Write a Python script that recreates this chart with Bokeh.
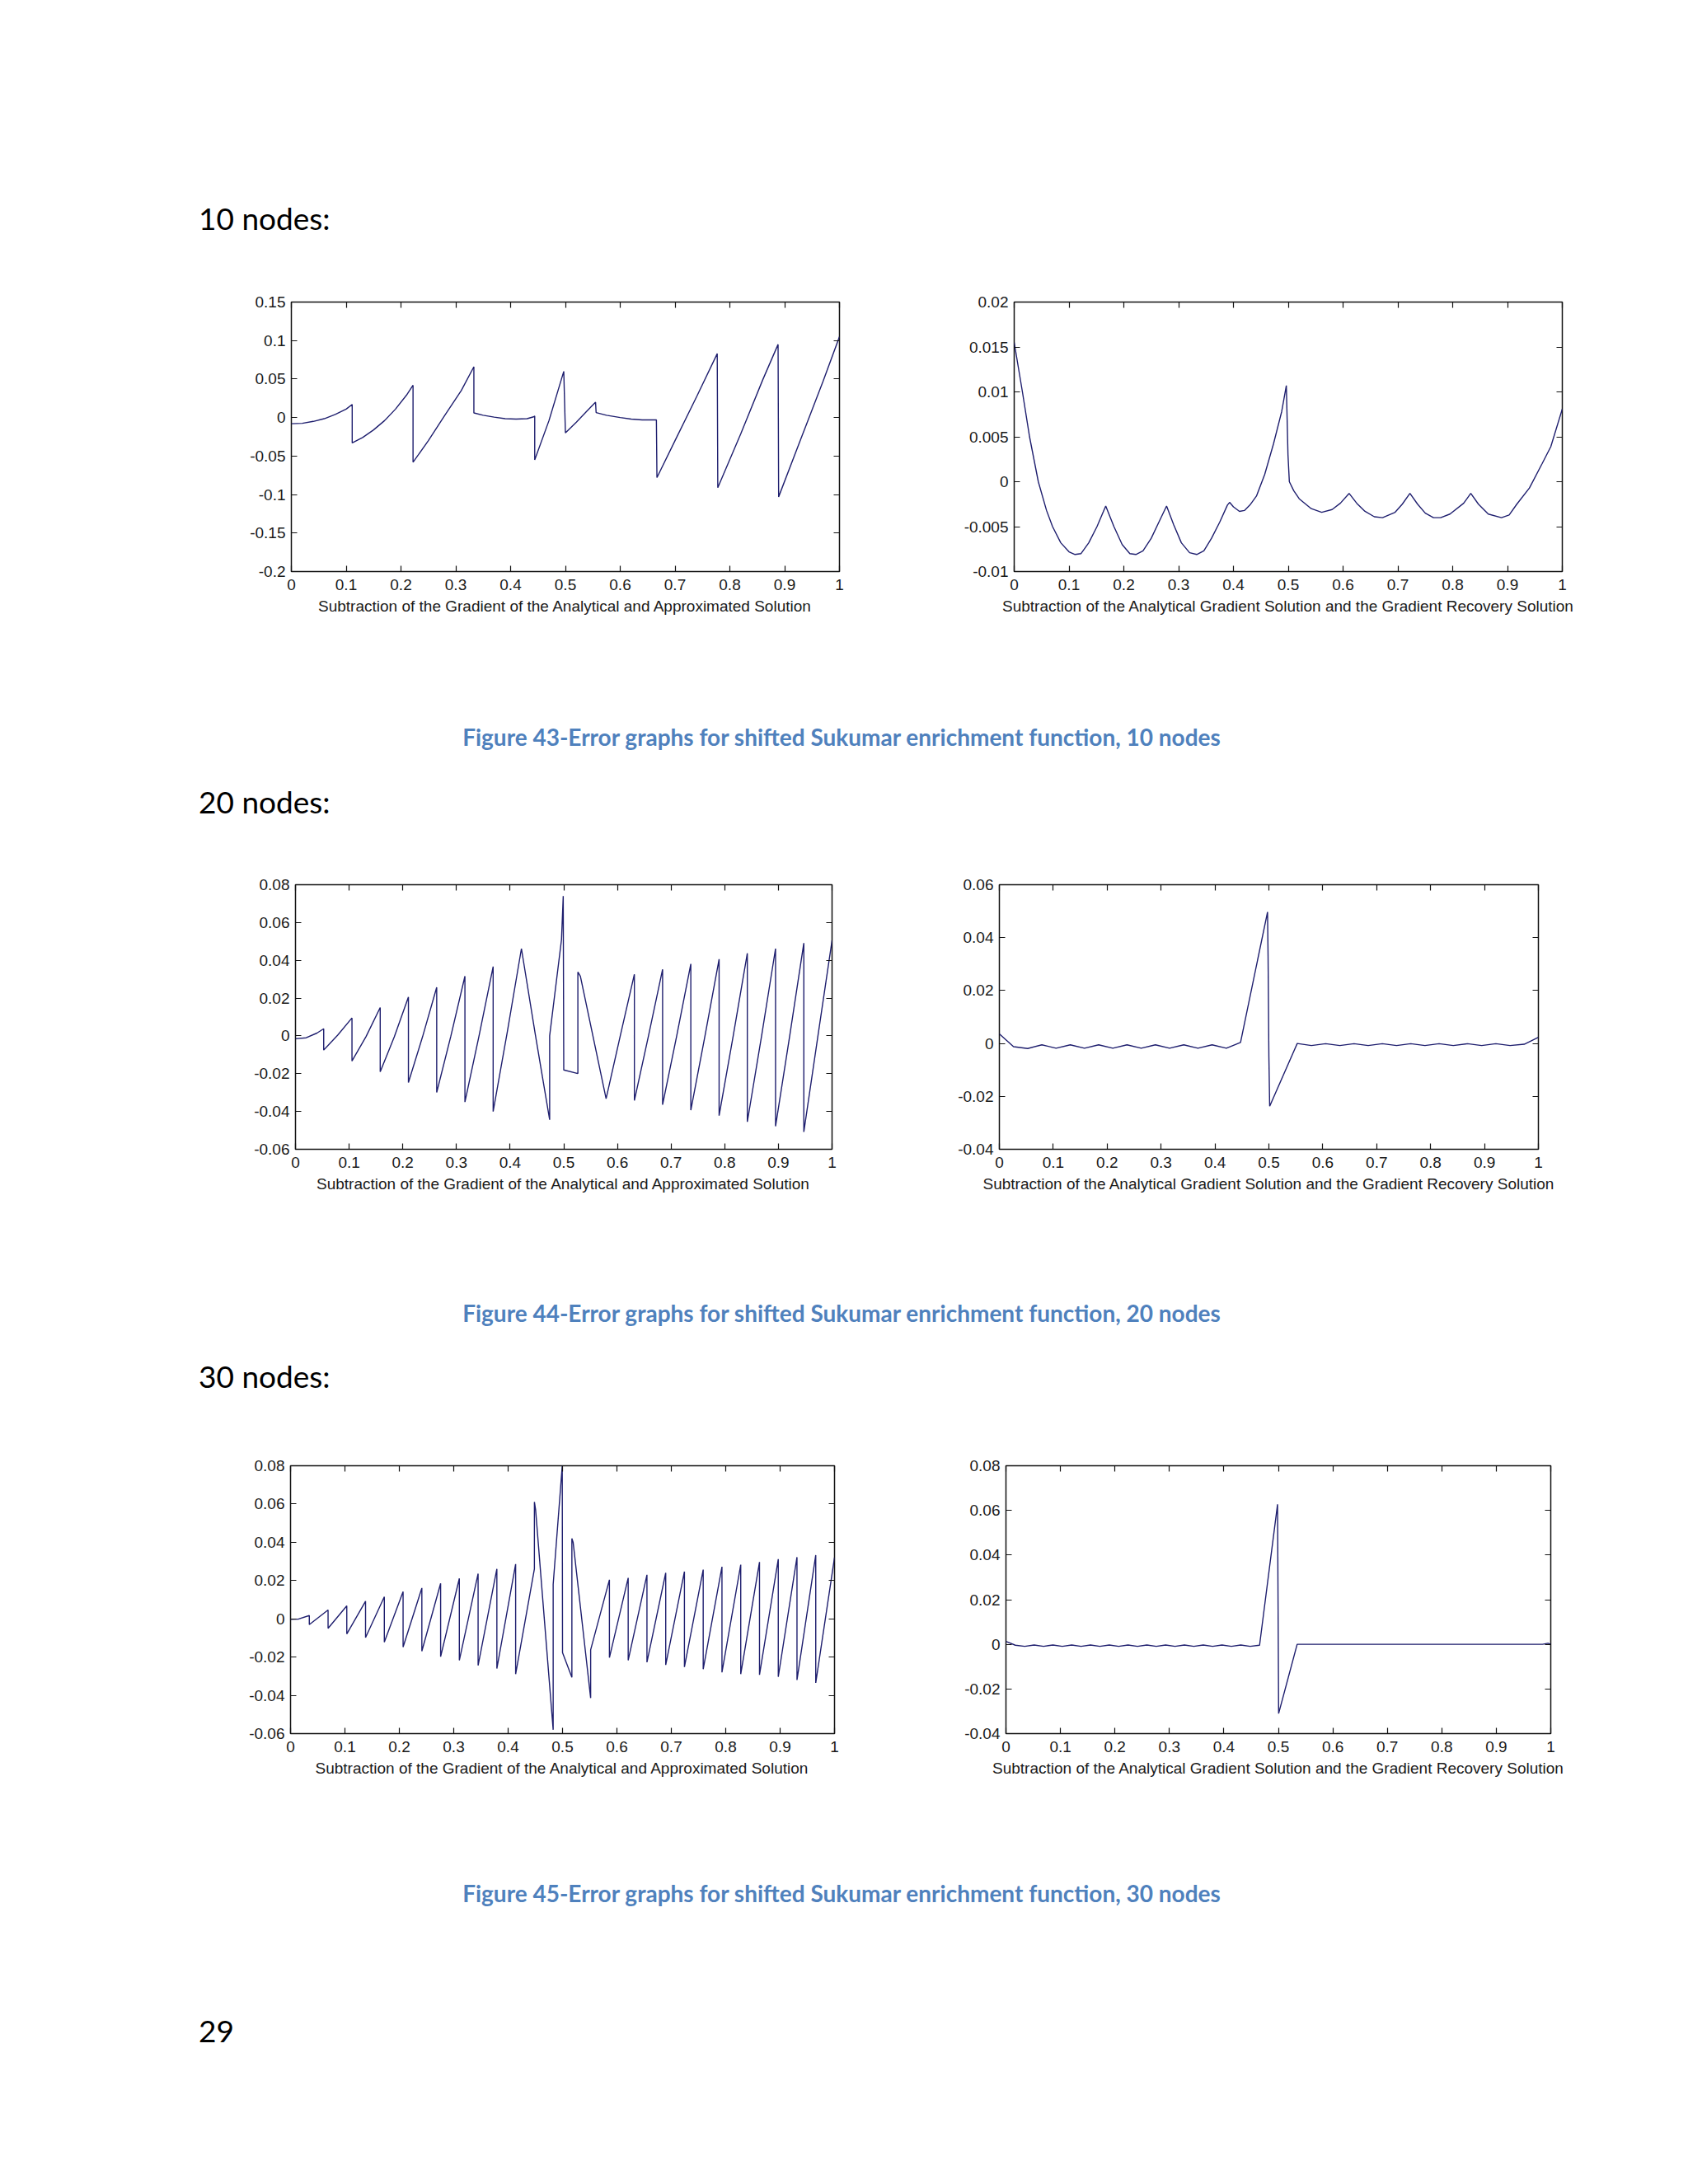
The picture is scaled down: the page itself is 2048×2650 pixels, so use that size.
from bokeh.plotting import figure
from bokeh.models import Range1d, FixedTicker, LinearAxis, Div
from bokeh.layouts import column, row
from bokeh.embed import file_html
from bokeh.resources import INLINE

# ---------------- data ----------------
x_ticks = [0, 0.1, 0.2, 0.3, 0.4, 0.5, 0.6, 0.7, 0.8, 0.9, 1]
x_tick_labels = ["0", "0.1", "0.2", "0.3", "0.4", "0.5", "0.6", "0.7", "0.8", "0.9", "1"]

headings = ["10 nodes:", "20 nodes:", "30 nodes:"]
captions = ["Figure 43-Error graphs for shifted Sukumar enrichment function, 10 nodes",
            "Figure 44-Error graphs for shifted Sukumar enrichment function, 20 nodes",
            "Figure 45-Error graphs for shifted Sukumar enrichment function, 30 nodes"]
page_number = "29"
label_grad = "Subtraction of the Gradient of the Analytical and Approximated Solution"
label_rec = "Subtraction of the Analytical Gradient Solution and the Gradient Recovery Solution"

# 10 nodes - gradient error
n10_grad_x = [
    0.000, 0.020, 0.040, 0.060, 0.080, 0.100, 0.111,
    0.111, 0.130, 0.150, 0.170, 0.190, 0.210, 0.222,
    0.222, 0.250, 0.280, 0.310, 0.333,
    0.333, 0.350, 0.370, 0.390, 0.410, 0.430, 0.442, 0.444,
    0.444, 0.470, 0.497,
    0.500, 0.520, 0.540, 0.555,
    0.556, 0.575, 0.600, 0.620, 0.640, 0.666,
    0.667, 0.700, 0.740, 0.777,
    0.778, 0.820, 0.860, 0.888,
    0.889, 0.930, 0.970, 1.000]
n10_grad_y = [
    -0.0080, -0.0075, -0.0050, -0.0015, 0.0040, 0.0110, 0.0170,
    -0.0330, -0.0260, -0.0160, -0.0040, 0.0110, 0.0290, 0.0420,
    -0.0580, -0.0300, 0.0030, 0.0350, 0.0660,
    0.0060, 0.0030, 0.0005, -0.0015, -0.0020, -0.0015, 0.0010, 0.0020,
    -0.0550, -0.0040, 0.0600,
    -0.0200, -0.0060, 0.0090, 0.0200,
    0.0065, 0.0030, 0.0000, -0.0020, -0.0030, -0.0030,
    -0.0780, -0.0300, 0.0280, 0.0830,
    -0.0910, -0.0210, 0.0490, 0.0950,
    -0.1030, -0.0270, 0.0470, 0.1050]
n10_grad_yticks = [-0.2, -0.15, -0.1, -0.05, 0, 0.05, 0.1, 0.15]
n10_grad_ylabels = ["-0.2", "-0.15", "-0.1", "-0.05", "0", "0.05", "0.1", "0.15"]

# 10 nodes - recovery error
n10_rec_x = [
    0.000, 0.015, 0.028, 0.044, 0.059, 0.070, 0.085, 0.100, 0.111, 0.122, 0.136, 0.151, 0.167,
    0.182, 0.197, 0.211, 0.222, 0.235, 0.250, 0.264, 0.278,
    0.291, 0.305, 0.320, 0.333, 0.346, 0.360, 0.375, 0.389, 0.393,
    0.400, 0.411, 0.420, 0.430, 0.442, 0.457, 0.473, 0.488, 0.4965,
    0.4995, 0.502, 0.510, 0.520, 0.542, 0.561, 0.580, 0.595, 0.611,
    0.625, 0.640, 0.657, 0.672, 0.695, 0.708, 0.722,
    0.736, 0.750, 0.765, 0.778, 0.795, 0.820, 0.833,
    0.847, 0.865, 0.889, 0.903, 0.917, 0.940, 0.963, 0.979, 1.000]
n10_rec_y = [
    0.0155, 0.0100, 0.0050, 0.0000, -0.0032, -0.0050, -0.0068, -0.0078, -0.0081, -0.0080, -0.0068, -0.0050, -0.0027,
    -0.0050, -0.0070, -0.0080, -0.0081, -0.0077, -0.0063, -0.0045, -0.0027,
    -0.0048, -0.0068, -0.0079, -0.0081, -0.0077, -0.0063, -0.0045, -0.0026, -0.0023,
    -0.0028, -0.0033, -0.0032, -0.0026, -0.0016, 0.0008, 0.0042, 0.0078, 0.0107,
    0.0030, 0.0000, -0.0010, -0.0019, -0.0030, -0.0034, -0.0031, -0.0024, -0.0013,
    -0.0024, -0.0033, -0.0039, -0.0040, -0.0034, -0.0025, -0.0013,
    -0.0025, -0.0035, -0.0040, -0.0040, -0.0036, -0.0024, -0.0013,
    -0.0025, -0.0036, -0.0040, -0.0037, -0.0025, -0.0007, 0.0020, 0.0039, 0.0081]
n10_rec_yticks = [-0.01, -0.005, 0, 0.005, 0.01, 0.015, 0.02]
n10_rec_ylabels = ["-0.01", "-0.005", "0", "0.005", "0.01", "0.015", "0.02"]

# 20 nodes - gradient error
n20_grad_x = [
    0.0000, 0.0200, 0.0400, 0.0526,
    0.0526, 0.0790, 0.1053,
    0.1053, 0.1316, 0.1579,
    0.1579, 0.1842, 0.2105,
    0.2105, 0.2368, 0.2632,
    0.2632, 0.2895, 0.3158,
    0.3158, 0.3421, 0.3684,
    0.3684, 0.3947, 0.4211, 0.4474, 0.4737,
    0.4737, 0.4958, 0.4990,
    0.5000, 0.5263,
    0.5263, 0.5310, 0.5789,
    0.6053, 0.6316,
    0.6316, 0.6579, 0.6842,
    0.6842, 0.7105, 0.7368,
    0.7368, 0.7632, 0.7895,
    0.7895, 0.8158, 0.8421,
    0.8421, 0.8684, 0.8947,
    0.8947, 0.9211, 0.9474,
    0.9474, 0.9737, 1.0000]
n20_grad_y = [
    -0.0015, -0.0010, 0.0015, 0.0038,
    -0.0075, 0.0005, 0.0095,
    -0.0133, -0.0003, 0.0150,
    -0.0190, -0.0005, 0.0206,
    -0.0247, -0.0005, 0.0257,
    -0.0299, -0.0002, 0.0316,
    -0.0350, 0.0000, 0.0367,
    -0.0400, 0.0020, 0.0462, 0.0000, -0.0444,
    0.0000, 0.0510, 0.0740,
    -0.0180, -0.0199,
    0.0338, 0.0315, -0.0332,
    0.0000, 0.0326,
    -0.0342, 0.0000, 0.0352,
    -0.0364, 0.0000, 0.0381,
    -0.0393, 0.0000, 0.0406,
    -0.0422, 0.0000, 0.0437,
    -0.0455, -0.0005, 0.0462,
    -0.0478, 0.0000, 0.0491,
    -0.0508, 0.0000, 0.0505]
n20_grad_yticks = [-0.06, -0.04, -0.02, 0, 0.02, 0.04, 0.06, 0.08]
n20_grad_ylabels = ["-0.06", "-0.04", "-0.02", "0", "0.02", "0.04", "0.06", "0.08"]

# 20 nodes - recovery error
n20_rec_x = [
    0.0000, 0.0263, 0.0526, 0.0789, 0.1053, 0.1316, 0.1579, 0.1842, 0.2105, 0.2368,
    0.2632, 0.2895, 0.3158, 0.3421, 0.3684, 0.3947, 0.4211, 0.4474,
    0.4975, 0.4985, 0.5000, 0.5015,
    0.5526,
    0.5789, 0.6053, 0.6316, 0.6579, 0.6842, 0.7105, 0.7368, 0.7632, 0.7895, 0.8158,
    0.8421, 0.8684, 0.8947, 0.9211, 0.9474,
    0.9737, 1.0000]
n20_rec_y = [
    0.0036, -0.0012, -0.0019, -0.0005, -0.0018, -0.0005, -0.0018, -0.0005, -0.0018, -0.0005,
    -0.0018, -0.0005, -0.0018, -0.0005, -0.0018, -0.0005, -0.0018, 0.0004,
    0.0497, 0.0330, -0.0050, -0.0237,
    0.0000,
    -0.0008, -0.0001, -0.0008, -0.0001, -0.0008, -0.0001, -0.0008, -0.0001, -0.0008, -0.0001,
    -0.0008, -0.0001, -0.0008, -0.0001, -0.0008,
    -0.0003, 0.0023]
n20_rec_yticks = [-0.04, -0.02, 0, 0.02, 0.04, 0.06]
n20_rec_ylabels = ["-0.04", "-0.02", "0", "0.02", "0.04", "0.06"]

# 30 nodes - gradient error
n30_grad_x = [
    0.0000, 0.0150, 0.0345,
    0.0345, 0.0690,
    0.0690, 0.1034,
    0.1034, 0.1379,
    0.1379, 0.1724,
    0.1724, 0.2069,
    0.2069, 0.2414,
    0.2414, 0.2759,
    0.2759, 0.3103,
    0.3103, 0.3448,
    0.3448, 0.3793,
    0.3793, 0.4138,
    0.4138, 0.4483,
    0.4483, 0.4505, 0.4828,
    0.4828, 0.4995,
    0.5000, 0.5172,
    0.5172, 0.5195, 0.5517,
    0.5517, 0.5862,
    0.5862, 0.6207,
    0.6207, 0.6552,
    0.6552, 0.6897,
    0.6897, 0.7241,
    0.7241, 0.7586,
    0.7586, 0.7931,
    0.7931, 0.8276,
    0.8276, 0.8621,
    0.8621, 0.8966,
    0.8966, 0.9310,
    0.9310, 0.9655,
    0.9655, 1.0000]
n30_grad_y = [
    -0.0003, -0.0001, 0.0017,
    -0.0030, 0.0046,
    -0.0050, 0.0068,
    -0.0079, 0.0092,
    -0.0098, 0.0115,
    -0.0122, 0.0142,
    -0.0148, 0.0161,
    -0.0169, 0.0185,
    -0.0198, 0.0211,
    -0.0217, 0.0236,
    -0.0244, 0.0261,
    -0.0260, 0.0286,
    -0.0289, 0.0261,
    0.0611, 0.0570, -0.0580,
    0.0180, 0.0800,
    -0.0177, -0.0306,
    0.0420, 0.0400, -0.0414,
    -0.0162, 0.0204,
    -0.0203, 0.0214,
    -0.0217, 0.0230,
    -0.0227, 0.0240,
    -0.0241, 0.0247,
    -0.0252, 0.0257,
    -0.0263, 0.0272,
    -0.0280, 0.0283,
    -0.0289, 0.0297,
    -0.0293, 0.0312,
    -0.0303, 0.0322,
    -0.0320, 0.0333,
    -0.0335, 0.0320]
n30_grad_yticks = [-0.06, -0.04, -0.02, 0, 0.02, 0.04, 0.06, 0.08]
n30_grad_ylabels = ["-0.06", "-0.04", "-0.02", "0", "0.02", "0.04", "0.06", "0.08"]

# 30 nodes - recovery error
n30_rec_x = [
    0.0000, 0.0172, 0.0345, 0.0517, 0.0690, 0.0862, 0.1034, 0.1207, 0.1379, 0.1552,
    0.1724, 0.1897, 0.2069, 0.2241, 0.2414, 0.2586, 0.2759, 0.2931, 0.3103, 0.3276,
    0.3448, 0.3621, 0.3793, 0.3966, 0.4138, 0.4310, 0.4483, 0.4655,
    0.4985, 0.5005, 0.5345,
    0.9850, 0.9950, 1.0000]
n30_rec_y = [
    0.0013, -0.0004, -0.0009, -0.0003, -0.0009, -0.0003, -0.0009, -0.0003, -0.0009, -0.0003,
    -0.0009, -0.0003, -0.0009, -0.0003, -0.0009, -0.0003, -0.0009, -0.0003, -0.0009, -0.0003,
    -0.0009, -0.0003, -0.0009, -0.0003, -0.0009, -0.0003, -0.0009, -0.0004,
    0.0627, -0.0310, 0.0000,
    0.0000, 0.0005, 0.0000]
n30_rec_yticks = [-0.04, -0.02, 0, 0.02, 0.04, 0.06, 0.08]
n30_rec_ylabels = ["-0.04", "-0.02", "0", "0.02", "0.04", "0.06", "0.08"]

# ---------------- styling helpers ----------------
LINE_COLOR = "#1e1e6e"
TICK_FONT = "Liberation Sans"
PAGE_W = 2032


def style_axis(ax, ticks, labels, show_labels, standoff):
    ax.ticker = FixedTicker(ticks=ticks)
    ax.major_label_overrides = {t: l for t, l in zip(ticks, labels)}
    ax.major_tick_in = 7
    ax.major_tick_out = 0
    ax.minor_tick_line_color = None
    ax.axis_line_color = None
    ax.major_tick_line_color = "#111111"
    ax.major_tick_line_width = 1.2
    ax.major_label_text_font = TICK_FONT
    ax.major_label_text_font_size = "19px"
    ax.major_label_text_color = "#1a1a1a" if show_labels else None
    ax.major_label_standoff = standoff


def make_panel(xs, ys, yticks, ylabels, xlabel, fw, fh, bl, br, bt, bb):
    p = figure(width=bl + fw + br, height=bt + fh + bb,
               x_range=Range1d(0, 1), y_range=Range1d(yticks[0], yticks[-1]),
               output_backend="svg", toolbar_location=None,
               min_border_left=bl, min_border_right=br,
               min_border_top=bt, min_border_bottom=bb)
    p.background_fill_color = "white"
    p.border_fill_color = "white"
    p.outline_line_color = "#111111"
    p.outline_line_width = 1.5
    p.grid.grid_line_color = None
    style_axis(p.xaxis[0], x_ticks, x_tick_labels, True, 9)
    style_axis(p.yaxis[0], yticks, ylabels, True, 7)
    p.xaxis[0].axis_label = xlabel
    p.xaxis[0].axis_label_text_font = TICK_FONT
    p.xaxis[0].axis_label_text_font_size = "19px"
    p.xaxis[0].axis_label_text_font_style = "normal"
    p.xaxis[0].axis_label_text_color = "#1a1a1a"
    p.xaxis[0].axis_label_standoff = 6
    top_ax = LinearAxis()
    style_axis(top_ax, x_ticks, x_tick_labels, False, 7)
    p.add_layout(top_ax, "above")
    right_ax = LinearAxis()
    style_axis(right_ax, yticks, ylabels, False, 7)
    p.add_layout(right_ax, "right")
    p.line(xs, ys, line_color=LINE_COLOR, line_width=1.4)
    return p


def text_div(height, items):
    html = '<div style="position:relative;width:%dpx;height:%dpx;">' % (PAGE_W, height)
    for kind, txt, left, top in items:
        if kind == "heading":
            html += ('<div style="position:absolute;left:%dpx;top:%dpx;font-family:Lato;'
                     'font-size:37px;line-height:37px;color:#000;white-space:nowrap;">%s</div>'
                     % (left, top, txt))
        else:
            html += ('<div style="position:absolute;left:0px;top:%dpx;width:%dpx;text-align:center;'
                     'font-family:Lato;font-weight:bold;font-size:28px;line-height:28px;'
                     'color:#4F81BD;white-space:nowrap;">%s</div>' % (top, PAGE_W, txt))
    html += '</div>'
    return Div(text=html, width=PAGE_W, height=height)


# ---------------- layout ----------------
LEFT_W = 1112
RIGHT_W = 920

p1 = make_panel(n10_grad_x, n10_grad_y, n10_grad_yticks, n10_grad_ylabels, label_grad,
                665, 327, 353, LEFT_W - 353 - 665, 47, 86)
p2 = make_panel(n10_rec_x, n10_rec_y, n10_rec_yticks, n10_rec_ylabels, label_rec,
                665, 327, 118, RIGHT_W - 118 - 665, 47, 86)
p3 = make_panel(n20_grad_x, n20_grad_y, n20_grad_yticks, n20_grad_ylabels, label_grad,
                651, 321, 358, LEFT_W - 358 - 651, 44, 87)
p4 = make_panel(n20_rec_x, n20_rec_y, n20_rec_yticks, n20_rec_ylabels, label_rec,
                654, 321, 100, RIGHT_W - 100 - 654, 44, 87)
p5 = make_panel(n30_grad_x, n30_grad_y, n30_grad_yticks, n30_grad_ylabels, label_grad,
                660, 325, 352, LEFT_W - 352 - 660, 47, 88)
p6 = make_panel(n30_rec_x, n30_rec_y, n30_rec_yticks, n30_rec_ylabels, label_rec,
                661, 325, 108, RIGHT_W - 108 - 661, 47, 88)

d1 = text_div(309, [("heading", headings[0], 236, 241)])
d2 = text_div(240, [("caption", captions[0], 0, 96), ("heading", headings[1], 236, 170)])
d3 = text_div(240, [("caption", captions[1], 0, 93), ("heading", headings[2], 236, 165)])
d4 = text_div(330, [("caption", captions[2], 0, 87), ("heading", page_number, 236, 249)])

page = column(d1, row(p1, p2), d2, row(p3, p4), d3, row(p5, p6), d4)

open("out.html", "w").write(file_html(page, INLINE))
